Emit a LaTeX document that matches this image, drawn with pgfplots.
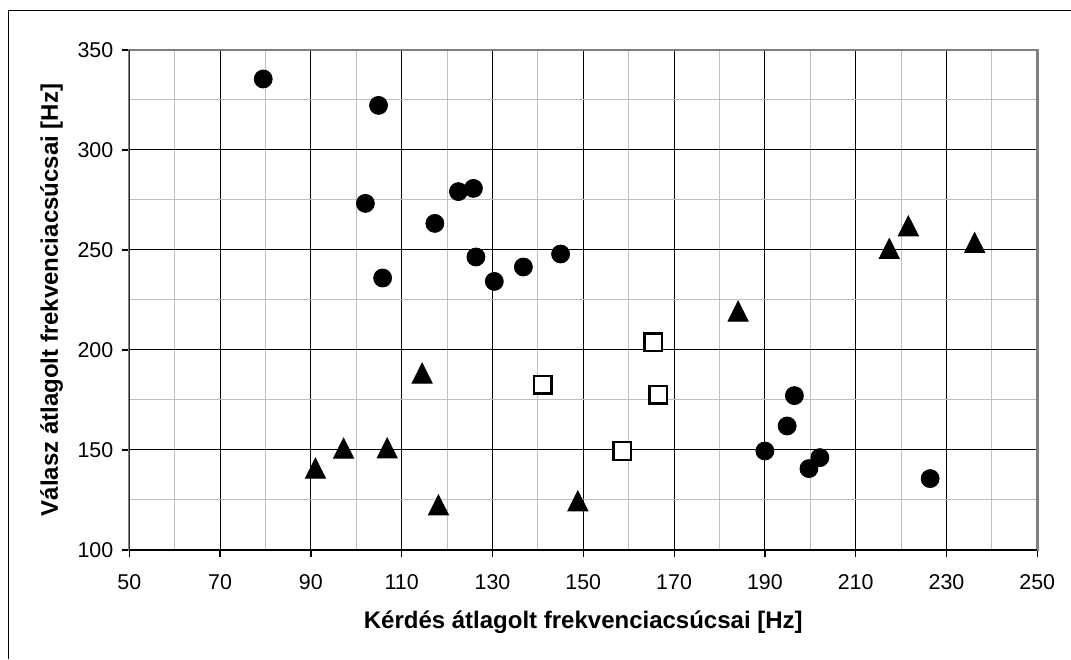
\documentclass[border=0pt]{standalone}
\usepackage{pgfplots}
\pgfplotsset{compat=1.18}
\usepackage{fontspec}
\setmainfont{Liberation Sans}
\begin{document}
\begin{tikzpicture}
\useasboundingbox (0,0) rectangle (535.5pt,329.5pt);
\draw[black, line width=0.6pt] (4.15pt,0pt) -- (4.15pt,324.35pt) -- (535.5pt,324.35pt);
\begin{axis}[
  at={(64.65pt,54.5pt)}, anchor=south west,
  scale only axis, width=454pt, height=250pt,
  xmin=50, xmax=250, ymin=100, ymax=350,
  xtick={50,70,...,250}, minor xtick={60,80,...,240},
  ytick={100,150,...,350}, minor ytick={125,175,...,325},
  grid=both,
  major grid style={black, line width=0.5pt},
  minor grid style={black!25, line width=0.5pt},
  axis line style={black!50, line width=1.2pt},
  tick align=outside, major tick length=3.5pt, minor tick length=0pt,
  xtick pos=bottom, ytick pos=left,
  tick style={black, line width=0.6pt},
  /pgf/number format/assume math mode=true,
  every tick label/.append style={font=\fontsize{10.7}{12}\selectfont},
  xticklabel style={yshift=-5pt},
  yticklabel style={xshift=-1pt},
  xlabel={\textbf{Kérdés átlagolt frekvenciacsúcsai [Hz]}},
  ylabel={\textbf{Válasz átlagolt frekvenciacsúcsai [Hz]}},
  every axis x label/.style={at={(axis description cs:0.5,-0.156)}, anchor=base, font=\fontsize{12}{14}\selectfont},
  every axis y label/.style={at={(axis description cs:-0.0786,0.5)}, anchor=base, rotate=90, font=\fontsize{12}{14}\selectfont},
]
% circles
\addplot[only marks, mark=*, mark size=4.5pt, black] coordinates {
(79.5,335.5) (104.9,322.3) (102.0,273.3) (105.8,236.0) (122.5,279.2)
(125.8,280.8) (117.3,263.3) (126.35,246.5) (130.4,234.3) (136.8,241.5)
(145.0,248.0) (196.5,177.2) (194.9,162.0) (190.0,149.5) (202.1,146.2)
(199.7,140.7) (226.4,135.7)
};
% triangles
\addplot[only marks, mark=triangle*, mark size=5.8pt, black,
  mark options={yscale=1.15, yshift=-1.67pt}] coordinates {
(91.0,141.2) (97.2,151.2) (106.8,151.3) (114.5,188.7) (118.1,122.8)
(148.8,124.8) (184.1,219.7) (217.4,251.0) (221.6,262.3) (236.2,254.0)
};
% squares
\addplot[only marks, mark=square*, mark size=4.4pt, black,
  mark options={fill=white, line width=1.2pt}] coordinates {
(141.1,182.7) (165.4,203.8) (166.5,177.7) (158.6,149.5)
};
\draw[black, line width=1pt] (rel axis cs:0,1) -- (rel axis cs:0,0) -- (rel axis cs:1,0);
\end{axis}
\end{tikzpicture}
\end{document}
